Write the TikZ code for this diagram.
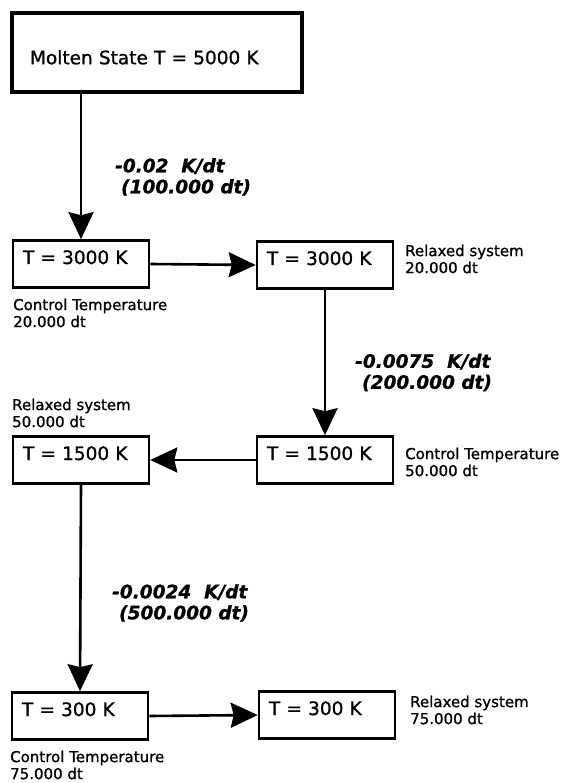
\documentclass[tikz,border=0pt]{standalone}
\usepackage{fontspec}
\setmainfont{DejaVu Sans}[FakeBold=1.1]
\usetikzlibrary{arrows.meta}
\begin{document}
\begin{tikzpicture}[x=1pt,y=-1pt,
  box/.style={draw, line width=2.6pt, rectangle, inner xsep=10pt, inner ysep=0pt,
    text width=116pt, align=left, minimum height=47pt,
    font=\fontsize{18.5}{21}\selectfont, text height=14pt, text depth=14pt},
  topbox/.style={draw, line width=3.6pt, rectangle, inner xsep=18pt, inner ysep=0pt,
    text width=254pt, align=left, minimum height=79pt,
    font=\fontsize{18.5}{21}\selectfont, text height=23.5pt, text depth=0pt},
  side/.style={anchor=west, align=left, inner sep=0pt, font=\fontsize{15}{17}\selectfont},
  rate/.style={anchor=west, align=left, inner sep=0pt,
    font=\fontsize{18.5}{21}\selectfont\bfseries\itshape},
  arr/.style={line width=2.6pt, -{Stealth[length=27pt,width=25pt,inset=3pt]}}
]
\useasboundingbox (0,0) rectangle (566,783);

\node[topbox] (top) at (157,52.5) {Molten State T = 5000 K};

\node[box] (b2) at (81,264) {T = 3000 K};
\node[box] (b3) at (325,265) {T = 3000 K};
\node[box] (b4) at (81,460) {T = 1500 K};
\node[box] (b5) at (325,460) {T = 1500 K};
\node[box] (b6) at (80,716) {T = 300 K};
\node[box] (b7) at (327,715) {T = 300 K};

\coordinate (s1) at (b2.north |- top.south);
\draw[arr] (s1) -- (b2.north);
\draw[arr] (b2.east) -- (b3.west);
\draw[arr] (b3.south) -- (b5.north);
\draw[arr] (b5.west) -- (b4.east);
\draw[arr] (b4.south) -- (b6.north);
\draw[arr] (b6.east) -- (b7.west);

\node[rate] (r1) at (115,177) {-0.02\ \ K/dt\\\hspace*{6pt}(100.000 dt)};
\node[rate] (r2) at (355,372.5) {-0.0075\ \ K/dt\\\hspace*{7pt}(200.000 dt)};
\node[rate] (r3) at (112,603) {-0.0024\ \ K/dt\\\hspace*{7pt}(500.000 dt)};

\node[side] (t1) at (405,259) {Relaxed system\\20.000 dt};
\node[side] (t2) at (13,313) {Control Temperature\\20.000 dt};
\node[side] (t3) at (12,413) {Relaxed system\\50.000 dt};
\node[side] (t4) at (405,462) {Control Temperature\\50.000 dt};
\node[side] (t5) at (410,710) {Relaxed system\\75.000 dt};
\node[side] (t6) at (10,765) {Control Temperature\\75.000 dt};
\end{tikzpicture}
\end{document}
